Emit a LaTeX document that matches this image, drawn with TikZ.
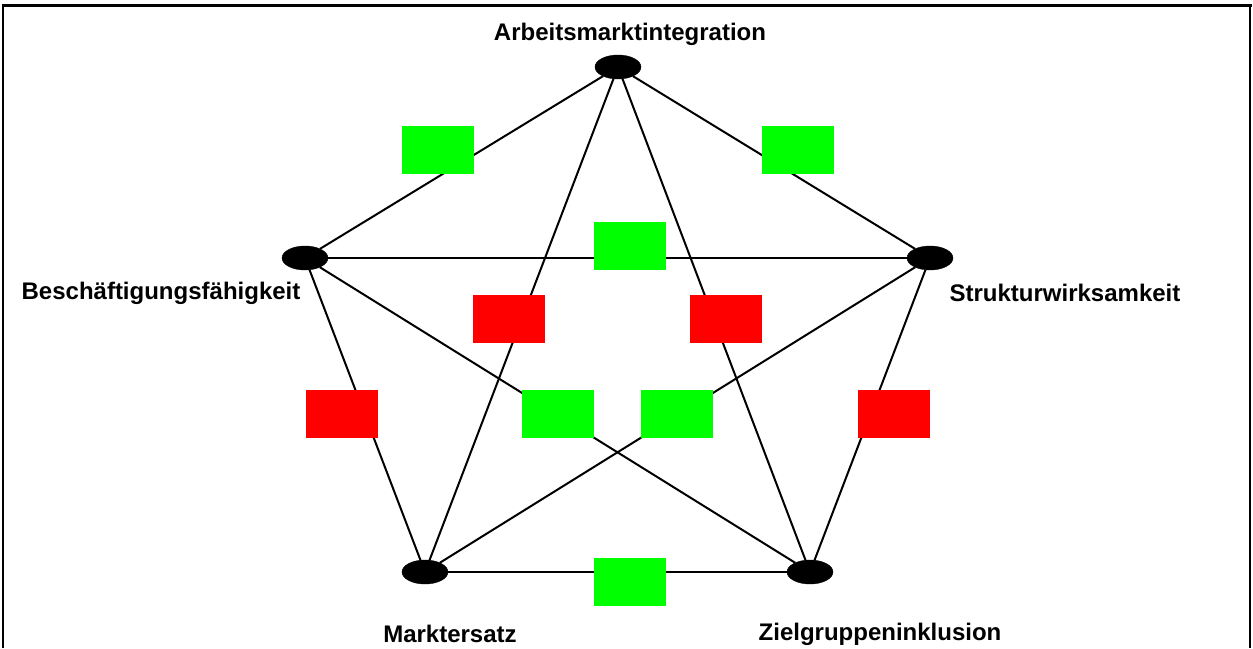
\documentclass[tikz,border=0pt]{standalone}
\usepackage{fontspec}
\setmainfont{Liberation Sans}
\usepackage{tikz}
\usetikzlibrary{shapes.geometric}
\tikzset{
    goalnode/.style = {
        ellipse,
        fill=black,
        draw=black,
        minimum width=46pt,
        minimum height=24pt,
        inner sep=0pt,
        outer sep=0pt
    },
    goallabel/.style = {
        font=\fontsize{24}{28}\selectfont\bfseries,
        inner sep=0pt
    },
    ratingbox/.style = {
        rectangle,
        minimum width=72pt,
        minimum height=48pt,
        inner sep=0pt
    },
    goodbox/.style = {
        ratingbox,
        fill=green
    },
    badbox/.style = {
        ratingbox,
        fill=red
    },
    link/.style = {
        line width=2pt
    }
}

\begin{document}
\begin{tikzpicture}[x=1pt,y=-1pt]
            \useasboundingbox (0,0) rectangle (1253,648);
            \draw [line width=1.2pt] (3,648) -- (3,5) (1250,5) -- (1250,648);
            \draw [line width=3pt] (1.5,5) -- (1251.5,5);
            % goals
            \node [goalnode] (arbeit) at (618,67) {};
            \node [goalnode] (besch) at (305,258) {};
            \node [goalnode] (struktur) at (930,258) {};
            \node [goalnode] (markt) at (425,572) {};
            \node [goalnode] (ziel) at (810,572) {};
            \node [goallabel] at (630,34) {Arbeitsmarktintegration};
            \node [goallabel] at (161,293) {Beschäftigungsfähigkeit};
            \node [goallabel] at (1065,293) {Strukturwirksamkeit};
            \node [goallabel] at (450,634) {Marktersatz};
            \node [goallabel] at (880,634) {Zielgruppeninklusion};
            % links
            \foreach \a/\b in {arbeit/besch, arbeit/struktur, arbeit/markt, arbeit/ziel,
                               besch/struktur, besch/markt, besch/ziel,
                               struktur/markt, struktur/ziel, markt/ziel}
                \draw [link] (\a) -- (\b);
            % ratings
            \node [goodbox] (r1) at (438,150) {};
            \node [goodbox] (r2) at (798,150) {};
            \node [goodbox] (r3) at (630,246) {};
            \node [badbox] (r4) at (509,319) {};
            \node [badbox] (r5) at (726,319) {};
            \node [badbox] (r6) at (342,414) {};
            \node [goodbox] (r7) at (558,414) {};
            \node [goodbox] (r8) at (677,414) {};
            \node [badbox] (r9) at (894,414) {};
            \node [goodbox] (r10) at (630,582) {};
        \end{tikzpicture}
\end{document}
